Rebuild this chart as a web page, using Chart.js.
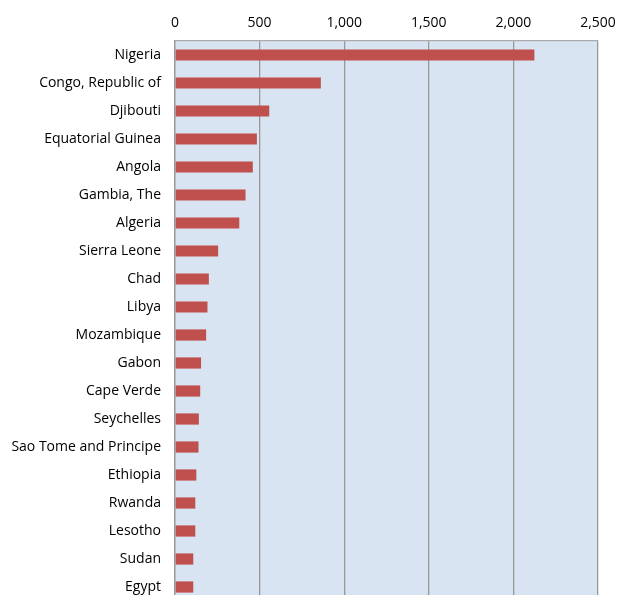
<!DOCTYPE html>
<html>
<head>
<meta charset="utf-8">
<script src="https://cdn.jsdelivr.net/npm/chart.js@4.4.1/dist/chart.umd.min.js"></script>
<style>
  html, body { margin: 0; padding: 0; background: #fff; overflow: hidden; }
  canvas { display: block; }
</style>
</head>
<body>
<canvas id="chart" width="618" height="609"></canvas>
<script>
// Countries, top to bottom
const countries = [
    'Nigeria', 'Congo, Republic of', 'Djibouti', 'Equatorial Guinea', 'Angola',
    'Gambia, The', 'Algeria', 'Sierra Leone', 'Chad', 'Libya',
    'Mozambique', 'Gabon', 'Cape Verde', 'Seychelles', 'Sao Tome and Principe',
    'Ethiopia', 'Rwanda', 'Lesotho', 'Sudan', 'Egypt'
];

// Values
const values = [
    2124, 862, 557, 484, 460,
    417, 380, 255, 200, 192,
    184, 154, 149, 141, 139,
    126, 120, 120, 108, 108
];

const axisMin = 0;
const axisMax = 2500;
const axisStep = 500;

// Fill the plot area light blue
const plotBackground = {
    id: 'plotBackground',
    beforeDraw(chart) {
        const { ctx, chartArea } = chart;
        ctx.save();
        ctx.fillStyle = '#d8e4f2';
        ctx.fillRect(chartArea.left, chartArea.top, chartArea.right - chartArea.left, chartArea.bottom - chartArea.top);
        ctx.restore();
    }
};

const ctx = document.getElementById('chart').getContext('2d');

new Chart(ctx, {
    type: 'bar',
    data: {
        labels: countries,
        datasets: [{
            data: values,
            backgroundColor: '#c0504d',
            borderWidth: 0,
            barPercentage: 0.4,
            categoryPercentage: 1.0
        }]
    },
    options: {
        indexAxis: 'y',
        responsive: false,
        animation: false,
        layout: {
            padding: { left: 0, right: 20, top: 0, bottom: 8 }
        },
        plugins: {
            legend: { display: false },
            tooltip: { enabled: false }
        },
        scales: {
            x: {
                position: 'top',
                min: axisMin,
                max: axisMax,
                ticks: {
                    stepSize: axisStep,
                    color: '#000',
                    padding: 10,
                    font: { family: 'Open Sans', size: 14 },
                    callback: v => v.toLocaleString('en-US')
                },
                grid: {
                    color: '#999',
                    lineWidth: 1.3,
                    drawTicks: false
                },
                border: { display: true, color: '#aaa', width: 1.3 },
                afterFit(scale) {
                    scale.height = 41;
                    scale.paddingLeft = 0;
                    scale.paddingRight = 0;
                }
            },
            y: {
                ticks: {
                    color: '#000',
                    padding: 14,
                    font: { family: 'Open Sans', size: 14 }
                },
                grid: { display: false, drawTicks: false },
                border: { color: '#999', width: 1.3 },
                afterFit(scale) {
                    scale.width = 175;
                    scale.paddingTop = 0;
                    scale.paddingBottom = 0;
                }
            }
        }
    },
    plugins: [plotBackground]
});
</script>
</body>
</html>
